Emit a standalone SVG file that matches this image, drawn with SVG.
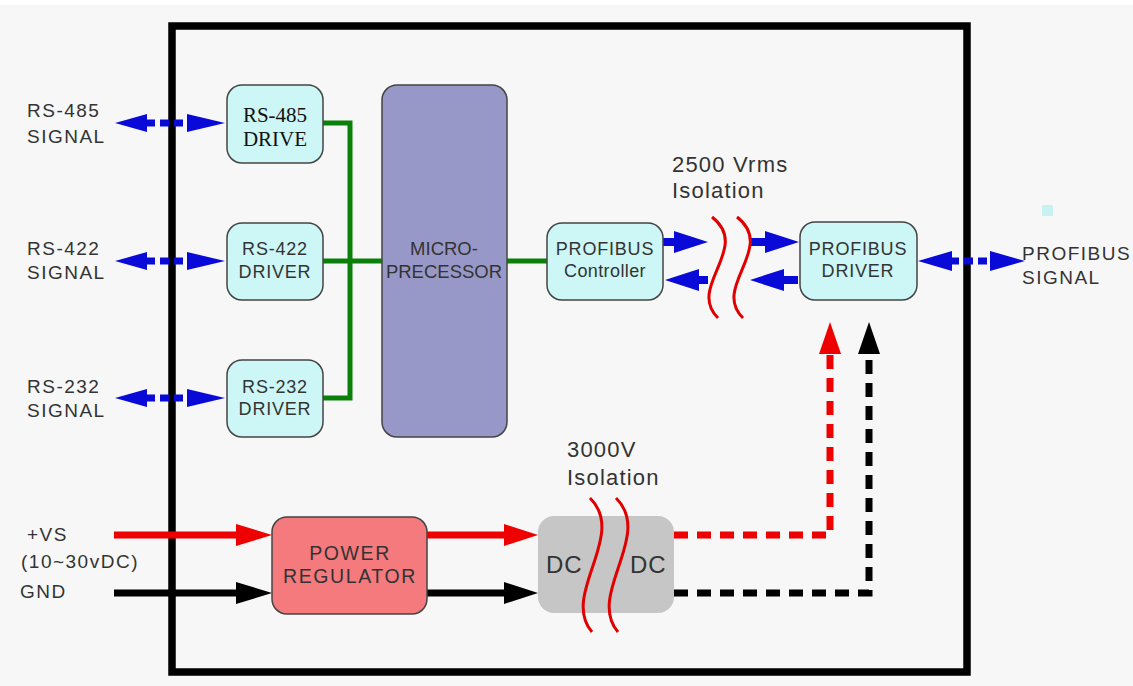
<svg xmlns="http://www.w3.org/2000/svg" width="1133" height="686" viewBox="0 0 1133 686">
<style>
.lbl{font-family:"Liberation Sans",Arial,sans-serif;fill:#333;}
.box{stroke:#444;stroke-width:1.5;}
.cy{fill:#cdf6f6;}
.t18{font-size:18px;letter-spacing:0.8px;}
.t20{font-size:19px;letter-spacing:1.5px;}
.t22{font-size:22px;letter-spacing:1.2px;}
.mid{text-anchor:middle;}
.serif{font-family:"Liberation Serif","Times New Roman",serif;font-size:21px;fill:#111;}
.green{fill:none;stroke:#0a800a;stroke-width:5;}
.blue{fill:#0a0ad8;}
.bdash{stroke:#0a0ad8;stroke-width:7;stroke-dasharray:9 5;fill:none;}
.bsolid{stroke:#0a0ad8;stroke-width:8;fill:none;}
.wave{fill:none;stroke:#e00000;stroke-width:3;}
.rline{stroke:#ee0000;stroke-width:7;fill:none;}
.kline{stroke:#000;stroke-width:7;fill:none;}
.rdash{stroke:#ee0000;stroke-width:7;fill:none;stroke-dasharray:14 9;}
.kdash{stroke:#000;stroke-width:7;fill:none;stroke-dasharray:14 9;}
</style>
<rect x="0" y="0" width="1133" height="686" fill="#ffffff"/>
<rect x="0" y="5" width="1133" height="681" fill="#f7f7f7"/>
<rect id="enclosure" x="172" y="26" width="795" height="646" fill="none" stroke="#000" stroke-width="7.5"/>
<rect x="1042" y="205" width="11" height="11" fill="#c8f2f2"/>

<g id="connectors">
  <path class="green" d="M323,123 H350 V398 H323 M323,261 H382 M507,261 H547"/>
  <g id="rs485-link">
    <line class="bdash" x1="146" y1="123" x2="190" y2="123"/>
    <polygon class="blue" points="115,123 147,114 147,132"/>
    <polygon class="blue" points="225,123 187,114 187,132"/>
  </g>
  <g id="rs422-link">
    <line class="bdash" x1="146" y1="261" x2="190" y2="261"/>
    <polygon class="blue" points="115,261 147,252 147,270"/>
    <polygon class="blue" points="225,261 187,252 187,270"/>
  </g>
  <g id="rs232-link">
    <line class="bdash" x1="146" y1="398" x2="190" y2="398"/>
    <polygon class="blue" points="115,398 147,389 147,407"/>
    <polygon class="blue" points="225,398 187,389 187,407"/>
  </g>
  <g id="profibus-link">
    <line class="bdash" x1="950" y1="261" x2="993" y2="261"/>
    <polygon class="blue" points="918,261 952,251 952,271"/>
    <polygon class="blue" points="1025,261 990,251 990,271"/>
  </g>
  <line class="bsolid" x1="663" y1="242" x2="676" y2="242"/>
  <polygon class="blue" points="708,242 674,231 674,253"/>
  <line class="bsolid" x1="696" y1="280" x2="708" y2="280"/>
  <polygon class="blue" points="665,280 699,269 699,291"/>
  <line class="bsolid" x1="750" y1="242" x2="767" y2="242"/>
  <polygon class="blue" points="799,242 765,231 765,253"/>
  <line class="bsolid" x1="781" y1="280" x2="798" y2="280"/>
  <polygon class="blue" points="750,280 784,269 784,291"/>
  <path class="wave" d="M712,217 C752,248 686,287 718,318"/>
  <path class="wave" d="M737,217 C777,248 711,287 743,318"/>
  <line class="rline" x1="114" y1="535" x2="240" y2="535"/>
  <polygon points="272,535 236,524 236,546" fill="#ee0000"/>
  <line class="kline" x1="114" y1="593" x2="240" y2="593"/>
  <polygon points="272,593 236,582 236,604" fill="#000"/>
  <line class="rline" x1="427" y1="535" x2="508" y2="535"/>
  <polygon points="538,535 504,524 504,546" fill="#ee0000"/>
  <line class="kline" x1="427" y1="593" x2="508" y2="593"/>
  <polygon points="538,593 504,582 504,604" fill="#000"/>
  <path class="rdash" d="M674,535 H830 V352"/>
  <polygon points="830,322 819,354 841,354" fill="#ee0000"/>
  <path class="kdash" d="M674,593 H869 V352"/>
  <polygon points="869,322 858,354 880,354" fill="#000"/>
</g>

<g id="rs485-drive">
  <rect class="box cy" x="227" y="85" width="96" height="78" rx="15"/>
  <text class="serif mid" x="275" y="122">RS-485</text>
  <text class="serif mid" x="275" y="146">DRIVE</text>
</g>
<g id="rs422-driver">
  <rect class="box cy" x="227" y="223" width="96" height="77" rx="15"/>
  <text class="lbl t18 mid" x="275" y="255">RS-422</text>
  <text class="lbl t18 mid" x="275" y="278">DRIVER</text>
</g>
<g id="rs232-driver">
  <rect class="box cy" x="227" y="360" width="96" height="77" rx="15"/>
  <text class="lbl t18 mid" x="275" y="393">RS-232</text>
  <text class="lbl t18 mid" x="275" y="415">DRIVER</text>
</g>
<g id="microprocessor">
  <rect class="box" x="382" y="85" width="125" height="352" rx="15" fill="#9898c8"/>
  <text class="lbl mid" x="444" y="255" font-size="18.5">MICRO-</text>
  <text class="lbl mid" x="444" y="278" font-size="18.5">PRECESSOR</text>
</g>
<g id="profibus-controller">
  <rect class="box cy" x="547" y="223" width="116" height="77" rx="15"/>
  <text class="lbl t18 mid" x="605" y="255">PROFIBUS</text>
  <text class="lbl mid" x="605" y="277" font-size="18" letter-spacing="0.4">Controller</text>
</g>
<g id="profibus-driver">
  <rect class="box cy" x="800" y="222" width="117" height="78" rx="15"/>
  <text class="lbl t18 mid" x="858" y="255">PROFIBUS</text>
  <text class="lbl t18 mid" x="858" y="277">DRIVER</text>
</g>
<g id="power-regulator">
  <rect class="box" x="272" y="517" width="155" height="97" rx="15" fill="#f47a7e"/>
  <text class="lbl mid" x="350" y="560" font-size="19.5" letter-spacing="1.6">POWER</text>
  <text class="lbl mid" x="350" y="583" font-size="19.5" letter-spacing="1.6">REGULATOR</text>
</g>
<g id="dc-dc">
  <rect x="538" y="516" width="136" height="97" rx="16" fill="#c6c6c6"/>
  <path class="wave" d="M590,498 C628,535 560,595 592,632"/>
  <path class="wave" d="M616,498 C654,535 586,595 618,632"/>
  <text class="lbl" x="546" y="573" font-size="24" letter-spacing="1">DC</text>
  <text class="lbl" x="630" y="573" font-size="24" letter-spacing="1">DC</text>
</g>

<g id="labels">
  <text class="lbl t20" x="27" y="117">RS-485</text>
  <text class="lbl t20" x="27" y="143">SIGNAL</text>
  <text class="lbl t20" x="27" y="255">RS-422</text>
  <text class="lbl t20" x="27" y="279">SIGNAL</text>
  <text class="lbl t20" x="27" y="393">RS-232</text>
  <text class="lbl t20" x="27" y="417">SIGNAL</text>
  <text class="lbl t20" x="1022" y="260">PROFIBUS</text>
  <text class="lbl t20" x="1022" y="284">SIGNAL</text>
  <text class="lbl t22" x="672" y="172">2500 Vrms</text>
  <text class="lbl t22" x="672" y="198">Isolation</text>
  <text class="lbl t22" x="567" y="457">3000V</text>
  <text class="lbl t22" x="567" y="485">Isolation</text>
  <text class="lbl t20" x="27" y="541">+VS</text>
  <text class="lbl t20" x="21" y="568" letter-spacing="2">(10~30vDC)</text>
  <text class="lbl t20" x="20" y="598">GND</text>
</g>
</svg>
